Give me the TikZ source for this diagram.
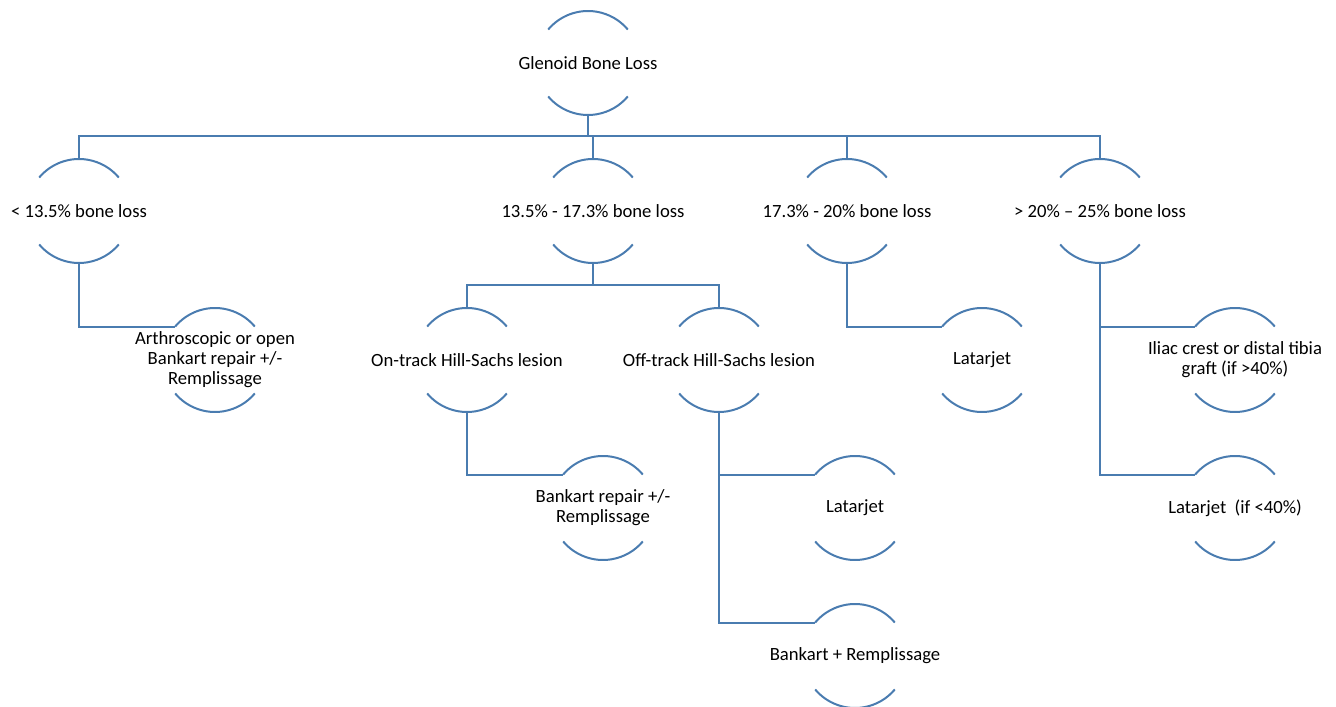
\documentclass[tikz,border=0pt]{standalone}
\usepackage{fontspec}
\setmainfont{Carlito}
\usetikzlibrary{calc}
\definecolor{lineblue}{RGB}{74,124,176}
\tikzset{
  lbl/.style={font=\fontsize{14}{15}\selectfont, align=center, inner sep=0pt, text=black},
  ln/.style={draw=lineblue, line width=1.5pt},
}
\newcommand\arcnode[4]{%
  \node[lbl] (#1) at (#2,#3) {#4};
  \coordinate (#1-t) at ($(#1.center)+(0,52)$);
  \coordinate (#1-b) at ($(#1.center)+(0,-52)$);
  \coordinate (#1-l) at ($(#1.center)+(140:52)$);
  \draw[ln] (#1.center) ++(140:52) arc[start angle=140,end angle=40,radius=52];
  \draw[ln] (#1.center) ++(-140:52) arc[start angle=-140,end angle=-40,radius=52];
}
\begin{document}
\begin{tikzpicture}[x=0.75pt,y=0.75pt]
\useasboundingbox (0,0) rectangle (1336,707);
% nodes
\arcnode{glb}{588}{644}{Glenoid Bone Loss}
\arcnode{a}{79}{496}{< 13.5\% bone loss}
\arcnode{b}{593}{496}{13.5\% - 17.3\% bone loss}
\arcnode{c}{847}{496}{17.3\% - 20\% bone loss}
\arcnode{d}{1100}{496}{> 20\% – 25\% bone loss}
\arcnode{a1}{215}{347}{Arthroscopic or open\\Bankart repair +/-\\Remplissage}
\arcnode{b1}{467}{347}{On-track Hill-Sachs lesion}
\arcnode{b2}{719}{347}{Off-track Hill-Sachs lesion}
\arcnode{c1}{982}{347}{Latarjet}
\arcnode{d1}{1235}{347}{Iliac crest or distal tibia\\graft (if >40\%)}
\arcnode{d2}{1235}{199}{Latarjet~~(if <40\%)}
\arcnode{b11}{603}{199}{Bankart repair +/-\\Remplissage}
\arcnode{b21}{855}{199}{Latarjet}
\arcnode{b22}{855}{51}{Bankart + Remplissage}
% tree connectors
\coordinate (j0) at ($(glb-b)+(0,-21)$);
\draw[ln] (glb-b) -- (j0);
\foreach \n in {a,b,c,d} { \draw[ln] (\n-t) |- (j0); }
\coordinate (j1) at ($(b-b)+(0,-22)$);
\draw[ln] (b-b) -- (j1);
\foreach \n in {b1,b2} { \draw[ln] (\n-t) |- (j1); }
% hanging connectors
\draw[ln] (a-b) |- (a1-l);
\draw[ln] (b1-b) |- (b11-l);
\draw[ln] (b2-b) |- (b21-l);
\draw[ln] (b2-b) |- (b22-l);
\draw[ln] (c-b) |- (c1-l);
\draw[ln] (d-b) |- (d1-l);
\draw[ln] (d-b) |- (d2-l);
\end{tikzpicture}
\end{document}
